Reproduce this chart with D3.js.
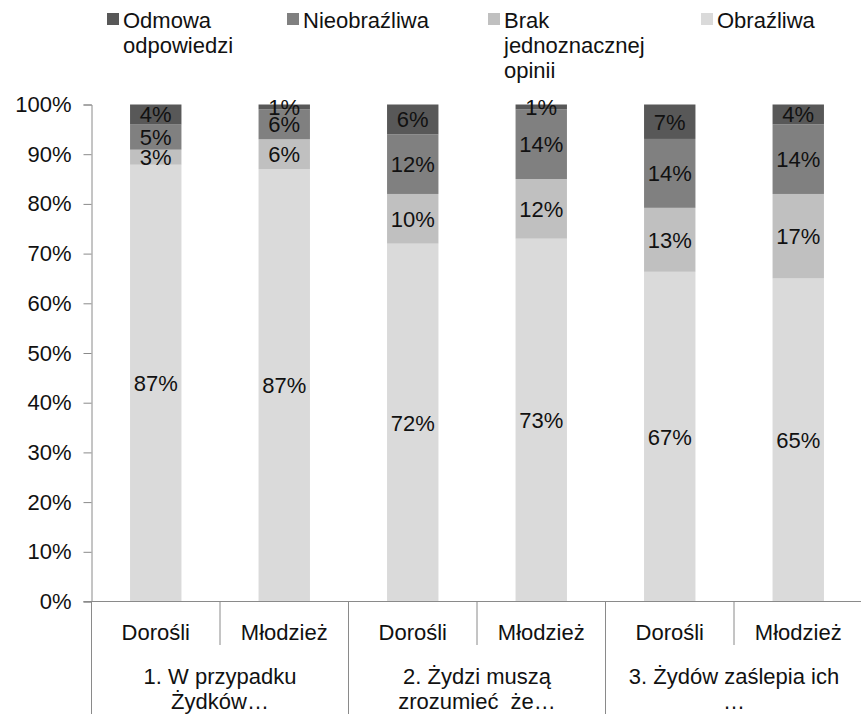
<!DOCTYPE html>
<html>
<head>
<meta charset="utf-8">
<script src="https://cdn.jsdelivr.net/npm/d3@7"></script>
<style>
  body { margin: 0; background: #fff; }
  text { font-family: "Liberation Sans", Arial, sans-serif; fill: #111; }
</style>
</head>
<body>
<div id="chart"></div>
<script>
// data
var questions = [
  ['1. W przypadku', 'Żydków…'],
  ['2. Żydzi muszą', 'zrozumieć  że…'],
  ['3. Żydów zaślepia ich', '…']
]
var groups = ['Dorośli', 'Młodzież']
var seriesNames = ['Obraźliwa', 'Brak jednoznacznej opinii', 'Nieobraźliwa', 'Odmowa odpowiedzi']
var legendOrder = ['Odmowa odpowiedzi', 'Nieobraźliwa', 'Brak jednoznacznej opinii', 'Obraźliwa']
var obrazliwa = [87, 87, 72, 73, 67, 65]
var brak = [3, 6, 10, 12, 13, 17]
var nieobrazliwa = [5, 6, 12, 14, 14, 14]
var odmowa = [4, 1, 6, 1, 7, 4]
var yTicks = [0, 0.1, 0.2, 0.3, 0.4, 0.5, 0.6, 0.7, 0.8, 0.9, 1]

var WIDTH = 861
var HEIGHT = 714
var LEFT = 91.5
var RIGHT = 862.5
var TOP = 104.5
var BOTTOM = 601.5
var FONT = 22

var colors = {
  'Odmowa odpowiedzi': '#585858',
  'Nieobraźliwa': '#808080',
  'Brak jednoznacznej opinii': '#c0c0c0',
  'Obraźliwa': '#dadada'
}

// one row per bar
var rows = []
questions.forEach(function (q, qi) {
  groups.forEach(function (g, gi) {
    var i = qi * groups.length + gi
    rows.push({
      key: qi + '-' + g,
      group: g,
      'Obraźliwa': obrazliwa[i],
      'Brak jednoznacznej opinii': brak[i],
      'Nieobraźliwa': nieobrazliwa[i],
      'Odmowa odpowiedzi': odmowa[i]
    })
  })
})

var stacked = d3.stack()
  .keys(seriesNames)
  .offset(d3.stackOffsetExpand)(rows)

var svg = d3.select('#chart').append('svg')
  .attr('width', WIDTH)
  .attr('height', HEIGHT)

var x = d3.scaleBand()
  .domain(rows.map(function (d) { return d.key }))
  .range([LEFT, RIGHT])
  .paddingInner(0.6)
  .paddingOuter(0.3)

var y = d3.scaleLinear().domain([0, 1]).range([BOTTOM, TOP])

//
// bars and labels
//
var layer = svg.selectAll('g.layer').data(stacked).enter().append('g')
  .attr('class', 'layer')
  .attr('fill', function (s) { return colors[s.key] })

layer.selectAll('rect').data(function (s) { return s }).enter().append('rect')
  .attr('x', function (d) { return x(d.data.key) })
  .attr('width', x.bandwidth())
  .attr('y', function (d) { return y(d[1]) })
  .attr('height', function (d) { return y(d[0]) - y(d[1]) })

stacked.forEach(function (s) {
  svg.append('g').selectAll('text').data(s).enter().append('text')
    .attr('x', function (d) { return x(d.data.key) + x.bandwidth() / 2 })
    .attr('y', function (d) { return (y(d[0]) + y(d[1])) / 2 })
    .attr('dy', '0.36em')
    .attr('text-anchor', 'middle')
    .style('font-size', FONT + 'px')
    .text(function (d) { return d.data[s.key] + '%' })
})

//
// y axis
//
var yAxis = svg.append('g')
  .attr('transform', 'translate(' + LEFT + ',0)')
  .call(d3.axisLeft(y).tickValues(yTicks).tickFormat(d3.format('.0%')).tickSize(8).tickPadding(12))
yAxis.select('.domain').attr('stroke', '#8a8a8a')
yAxis.selectAll('.tick line').attr('stroke', '#8a8a8a')
yAxis.selectAll('.tick text')
  .attr('fill', '#111')
  .style('font-size', FONT + 'px')
  .style('font-family', '"Liberation Sans", Arial, sans-serif')

//
// x axis: baseline, dividers, two rows of labels
//
var axisColor = '#8a8a8a'
svg.append('line')
  .attr('x1', LEFT - 8).attr('x2', RIGHT)
  .attr('y1', BOTTOM).attr('y2', BOTTOM)
  .attr('stroke', axisColor)

var step = x.step()
d3.range(rows.length + 1).forEach(function (k) {
  var long = k % groups.length === 0
  svg.append('line')
    .attr('x1', LEFT + k * step).attr('x2', LEFT + k * step)
    .attr('y1', BOTTOM).attr('y2', long ? HEIGHT : 645)
    .attr('stroke', axisColor)
})

svg.append('g').selectAll('text').data(rows).enter().append('text')
  .attr('x', function (d) { return x(d.key) + x.bandwidth() / 2 })
  .attr('y', 640)
  .attr('text-anchor', 'middle')
  .style('font-size', FONT + 'px')
  .text(function (d) { return d.group })

questions.forEach(function (lines, qi) {
  var cx = LEFT + (qi * groups.length + groups.length / 2) * step
  var t = svg.append('text')
    .attr('text-anchor', 'middle')
    .style('font-size', FONT + 'px')
  lines.forEach(function (line, li) {
    t.append('tspan')
      .attr('x', cx)
      .attr('y', 684 + li * 25)
      .style('white-space', 'pre')
      .text(line)
  })
})

//
// legend
//
var legendX = [107, 287, 488, 701]
var legendLines = {
  'Odmowa odpowiedzi': ['Odmowa', 'odpowiedzi'],
  'Nieobraźliwa': ['Nieobraźliwa'],
  'Brak jednoznacznej opinii': ['Brak', 'jednoznacznej', 'opinii'],
  'Obraźliwa': ['Obraźliwa']
}
legendOrder.forEach(function (name, i) {
  var g = svg.append('g').attr('transform', 'translate(' + legendX[i] + ',0)')
  g.append('rect')
    .attr('x', 0).attr('y', 13)
    .attr('width', 12).attr('height', 12)
    .attr('fill', colors[name])
  var t = g.append('text').style('font-size', FONT + 'px')
  legendLines[name].forEach(function (line, li) {
    t.append('tspan')
      .attr('x', 16)
      .attr('y', 28 + li * 25)
      .text(line)
  })
})
</script>
</body>
</html>
